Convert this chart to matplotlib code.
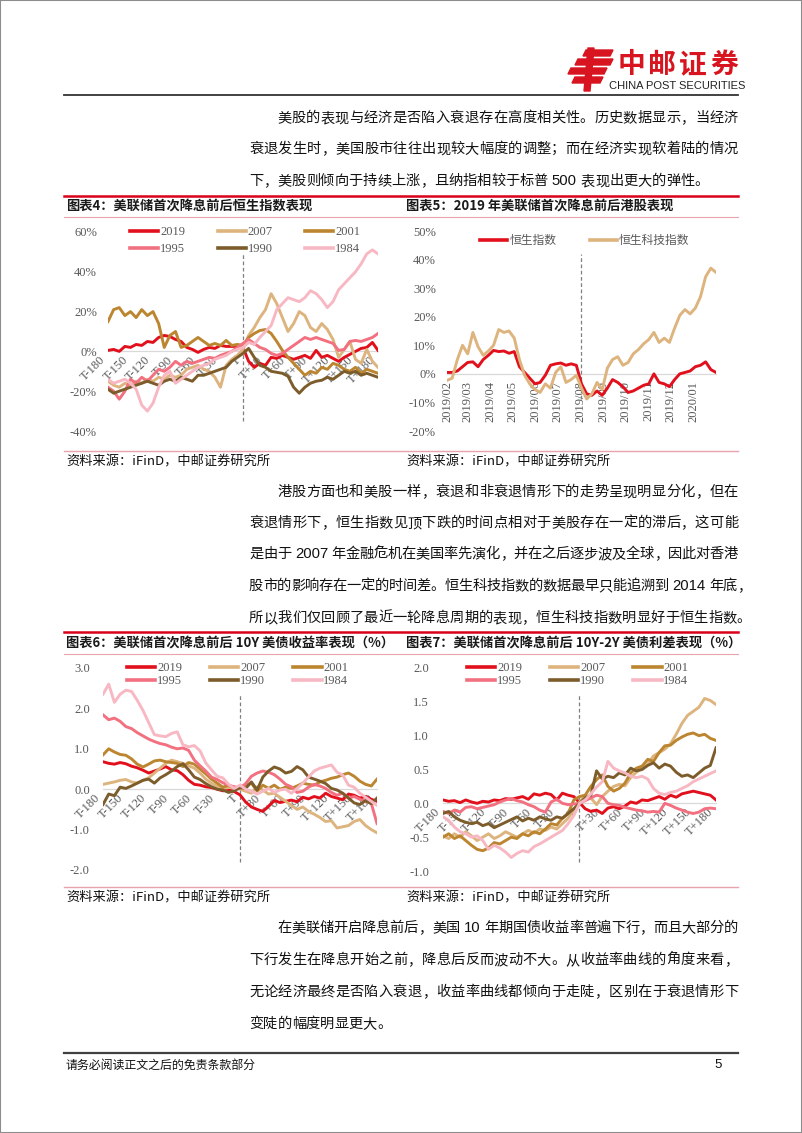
import re
import numpy as np
import pandas as pd
import matplotlib
matplotlib.use('Agg')
import matplotlib.pyplot as plt
import matplotlib.dates as mdates
from matplotlib.lines import Line2D
from matplotlib.patches import Polygon, Rectangle

plt.rcParams['font.family'] = ['Liberation Serif', 'DejaVu Serif']
CJK = ['Noto Sans CJK SC', 'DejaVu Sans']
NARROW = ['Liberation Sans Narrow', 'Liberation Sans', 'DejaVu Sans']

W, H = 802, 1133

# ------------------------------------------------------------------ data
t_days = np.arange(-180, 181, 7.5)          # trading-day offset from first cut
t_ticks = [-180, -150, -120, -90, -60, -30, 0, 30, 60, 90, 120, 150, 180]
t_labels = ['T-180', 'T-150', 'T-120', 'T-90', 'T-60', 'T-30', 'T',
            'T+30', 'T+60', 'T+90', 'T+120', 'T+150', 'T+180']
years = ['2019', '2007', '2001', '1995', '1990', '1984']
year_colors = ['#E2101C', '#DDB47E', '#BC8530', '#F27080', '#7C5C2A', '#F8B8C3']

# 图表4 恒生指数 (%)
c4_2019 = [0.5, 1, 0, 2.5, 2, 3.5, 3, 5, 4.5, 7, 8, 7.5, 6, 5, 2, 1, -0.5, 1, 2, 1.5,
           3, 2.5, 2.5, 2.5, 2, -5, -8, -6, -7, -3, -3.5, -2, -3, -4, -3, -2, -3.5, 0.5,
           -3, -2, -3.5, -5, -3, -1.5, 0, 1.5, 2, 4.5, 0.5]
c4_2007 = [-15, -17, -18, -16, -17, -15, -16, -14, -15, -13, -14, -12, -13, -12, -9, -8,
           -7, -9, -10, -13, -18, -7, -4, -2, 1, 8, 12, 17, 21, 29, 24, 17, 10, 14, 20,
           18, 12, 10, 14, 11, 6, -3, 1, 5, -4, -6, 1, -5, -8]
c4_2001 = [15, 21, 22, 18, 20, 17, 21, 18, 20, 14, 2, 8, 10, 2, 3, 5, 7, 5, 3, 4, 3, 5.5,
           3, 3.5, 3, 7, 9, 10.5, 11, 9, 5, 0.5, -3, -6, -9, -12, -10, -11, -8, -9, -6,
           -7, -9, -10, -8, -11, -9, -10, -11]
c4_1995 = [-18, -20, -24, -20, -14, -16, -13, -15, -12, -9, -10, -8, -5, -7, -5, -6, -5,
           -4, -3, -3.5, -2, -1, 0, 2, 4, 6, 4, 2, 1, -1, -2, -1, 1, 3, 5, 7, 6, 7, 6, 5,
           4, 0.5, 1, 5, 5.5, 5, 6, 7, 9]
c4_1990 = [-19, -21, -20, -19, -18, -17, -16, -15, -16, -17, -15, -14, -15, -13, -14, -15,
           -12, -12, -11, -10, -9, -8, -5, -3, -1, 1.5, -3, -7, -8, -10, -10.5, -11,
           -12.5, -18, -21, -18, -16, -15, -14.5, -13, -14, -12, -10, -11, -10, -12,
           -11, -12, -13]
c4_1984 = [-14, -16, -15, -14, -16, -19, -27, -30, -26, -18, -12, -10, -16, -14, -12,
           -10, -8, -7, -6, -4, -3, -2, 0, 1, 2, 4.5, 3.5, 7, 10, 13, 21, 24, 27, 26, 25,
           27, 30.5, 29, 26, 22, 25, 31, 34, 37, 40, 44, 49, 51, 49]

# 图表5 港股 (%), weekly
hk_dates = pd.date_range('2019-02-01', periods=53, freq='7D')
hk_month_ticks = pd.date_range('2019-02-01', '2020-01-01', freq='MS')
hsi = [0.5, 0.5, 1.0, 2.5, 4.0, 4.2, 2.5, 5.0, 6.5, 8.2, 7.8, 8.0, 7.2, 7.8, 2.5, 0.5,
       -1.5, -3.5, -3.0, -0.5, 3.0, 3.5, 3.8, 3.0, 3.5, 3.0, -3.5, -7.0, -7.5, -6.0,
       -7.5, -5.0, -2.0, -3.0, -4.5, -6.5, -6.0, -5.0, -4.0, -3.5, 0.0, -3.0, -3.5,
       -4.5, -2.0, 0.0, 0.5, 1.0, 2.5, 3.0, 4.2, 1.5, 0.5]
hstech = [-2.3, -1.5, 5.0, 10.0, 7.0, 14.5, 9.5, 6.5, 8.0, 10.0, 15.5, 14.5, 15.0, 12.5,
          5.0, -0.5, -3.5, -5.5, -6.5, -3.5, -5.0, 0.5, 2.5, -3.0, -2.0, -0.5, -5.0,
          -8.8, -7.0, -3.0, -5.5, 2.0, 5.0, 6.0, 3.0, 4.0, 7.0, 8.5, 10.5, 12.0, 14.5,
          11.0, 12.5, 11.0, 16.0, 20.5, 22.5, 21.0, 23.0, 27.0, 34.0, 37.0, 35.5]
hk_names = ['恒生指数', '恒生科技指数']
hk_colors = ['#E2101C', '#DDB47E']
hk_cut = pd.Timestamp('2019-08-01')

# 图表6 10Y 美债收益率变化 (%)
c6_2019 = [0.68, 0.64, 0.62, 0.66, 0.63, 0.57, 0.53, 0.47, 0.40, 0.45, 0.50, 0.56, 0.48,
           0.46, 0.36, 0.22, 0.12, 0.10, 0.06, 0.04, 0.00, -0.04, -0.02, -0.06, -0.14,
           -0.32, -0.44, -0.50, -0.55, -0.42, -0.28, -0.33, -0.30, -0.27, -0.31, -0.20,
           -0.24, -0.18, -0.22, -0.10, -0.18, -0.22, -0.26, -0.12, -0.15, -0.22, -0.18,
           -0.25, -0.30]
c6_2007 = [0.12, 0.15, 0.18, 0.22, 0.24, 0.18, 0.15, 0.22, 0.28, 0.40, 0.52, 0.64, 0.72,
           0.68, 0.64, 0.58, 0.52, 0.40, 0.25, 0.15, 0.07, 0.02, 0.04, 0.06, 0.0, -0.05,
           -0.10, 0.06, -0.02, -0.12, -0.10, -0.20, -0.30, -0.40, -0.50, -0.44, -0.55,
           -0.62, -0.70, -0.80, -0.78, -0.96, -0.93, -0.90, -0.80, -0.75, -0.90, -1.00,
           -1.08]
c6_2001 = [0.85, 1.00, 0.92, 0.86, 0.84, 0.75, 0.62, 0.55, 0.62, 0.70, 0.72, 0.68, 0.66,
           0.64, 0.56, 0.66, 0.62, 0.50, 0.38, 0.25, 0.15, 0.05, 0.10, 0.02, 0.06, 0.10,
           0.15, -0.05, 0.10, 0.02, 0.10, 0.0, 0.05, 0.02, 0.08, 0.15, 0.12, 0.10, 0.18,
           0.22, 0.27, 0.30, 0.36, 0.40, 0.32, 0.20, 0.12, 0.08, 0.25]
c6_1995 = [1.84, 1.72, 1.76, 1.68, 1.55, 1.50, 1.40, 1.32, 1.24, 1.18, 1.13, 1.10, 1.04,
           1.00, 1.02, 0.96, 0.72, 0.58, 0.45, 0.30, 0.24, 0.16, 0.10, 0.06, 0.02, 0.14,
           0.32, 0.40, 0.45, 0.42, 0.36, 0.25, 0.12, 0.06, -0.08, -0.05, 0.05, 0.12, 0.08,
           0.02, -0.08, -0.15, -0.10, -0.22, -0.18, -0.25, -0.30, -0.35, -0.85]
c6_1990 = [-0.38, -0.12, -0.16, 0.05, 0.02, 0.08, 0.15, 0.22, 0.25, 0.15, 0.28, 0.36, 0.45,
           0.56, 0.63, 0.48, 0.30, 0.24, 0.14, 0.06, 0.0, -0.02, -0.08, -0.04, 0.04, 0.02,
           0.18, -0.02, 0.30, 0.45, 0.55, 0.50, 0.40, 0.44, 0.56, 0.48, 0.30, 0.25, 0.20,
           0.14, 0.02, -0.02, -0.10, -0.22, -0.34, -0.38, -0.28, -0.36, -0.22]
c6_1984 = [2.35, 2.60, 2.15, 2.35, 2.45, 2.42, 2.20, 1.95, 1.65, 1.35, 1.32, 1.30, 1.38,
           1.42, 1.10, 1.05, 1.08, 0.95, 0.65, 0.48, 0.32, 0.28, 0.12, 0.02, 0.10, 0.0,
           -0.05, -0.12, -0.05, 0.02, -0.08, -0.02, 0.0, -0.10, 0.02, 0.15, 0.30, 0.45,
           0.52, 0.56, 0.60, 0.42, 0.35, 0.10, 0.05, -0.10, -0.20, -0.30, -0.40]

# 图表7 10Y-2Y 利差变化 (%)
c7_2019 = [0.05, 0.03, 0.04, 0.01, 0.05, 0.02, 0.0, 0.03, 0.02, 0.05, 0.04, 0.07, 0.06,
           0.08, 0.10, 0.06, 0.14, 0.12, 0.15, 0.13, 0.05, 0.15, 0.12, 0.10, 0.01, -0.08,
           -0.12, -0.10, -0.15, -0.07, -0.05, -0.08, -0.04, 0.02, 0.0, 0.05, 0.04, 0.07,
           0.10, 0.06, 0.12, 0.09, 0.14, 0.16, 0.18, 0.16, 0.14, 0.12, 0.05]
c7_2007 = [-0.48, -0.52, -0.45, -0.50, -0.42, -0.48, -0.55, -0.50, -0.45, -0.52, -0.48,
           -0.42, -0.46, -0.50, -0.45, -0.40, -0.44, -0.38, -0.40, -0.35, -0.38, -0.30,
           -0.22, -0.10, 0.02, 0.12, 0.08, -0.02, 0.10, 0.18, 0.25, 0.28, 0.26, 0.38, 0.46,
           0.52, 0.58, 0.70, 0.75, 0.80, 0.88, 1.02, 1.18, 1.30, 1.36, 1.42, 1.55, 1.52,
           1.46]
c7_2001 = [-0.50, -0.45, -0.52, -0.48, -0.55, -0.62, -0.68, -0.70, -0.66, -0.58, -0.60,
           -0.55, -0.50, -0.52, -0.45, -0.48, -0.42, -0.45, -0.38, -0.30, -0.32, -0.22,
           -0.15, 0.05, 0.10, 0.12, 0.25, 0.35, 0.42, 0.25, 0.18, 0.22, 0.30, 0.45, 0.52,
           0.55, 0.65, 0.62, 0.75, 0.85, 0.86, 0.93, 0.98, 1.02, 1.04, 1.00, 1.02, 0.96,
           0.93]
c7_1995 = [-0.12, -0.15, -0.10, -0.13, -0.06, -0.05, -0.08, -0.06, -0.04, -0.02, 0.02,
           0.05, 0.07, 0.04, 0.02, -0.02, -0.05, -0.10, -0.13, 0.02, 0.06, 0.0, -0.02,
           -0.01, 0.0, 0.04, 0.08, 0.12, 0.10, 0.0, -0.02, -0.03, -0.06, -0.08, -0.10,
           -0.11, -0.13, -0.12, -0.13, 0.0, -0.03, -0.07, -0.10, -0.13, -0.15, -0.13,
           -0.08, -0.07, -0.08]
c7_1990 = [-0.15, -0.12, -0.20, -0.25, -0.28, -0.30, -0.28, -0.33, -0.30, -0.36, -0.32,
           -0.28, -0.24, -0.20, -0.26, -0.22, -0.25, -0.20, -0.23, -0.25, -0.20, -0.22,
           -0.15, -0.08, 0.0, 0.08, 0.12, 0.48, 0.36, 0.40, 0.38, 0.45, 0.42, 0.52, 0.48,
           0.50, 0.56, 0.60, 0.52, 0.58, 0.55, 0.46, 0.40, 0.42, 0.38, 0.45, 0.52, 0.56,
           0.82]
c7_1984 = [-0.20, -0.25, -0.35, -0.42, -0.45, -0.50, -0.48, -0.55, -0.68, -0.62, -0.66,
           -0.72, -0.80, -0.74, -0.70, -0.72, -0.64, -0.60, -0.55, -0.50, -0.45, -0.40,
           -0.30, -0.18, 0.0, 0.05, 0.14, 0.24, 0.32, 0.62, 0.52, 0.48, 0.45, 0.40, 0.38,
           0.40, 0.36, 0.22, 0.15, 0.13, 0.16, 0.18, 0.22, 0.26, 0.32, 0.36, 0.40, 0.44,
           0.48]

c4_yticks = [-40, -20, 0, 20, 40, 60]
c4_ylabels = ['-40%', '-20%', '0%', '20%', '40%', '60%']
c5_yticks = [-20, -10, 0, 10, 20, 30, 40, 50]
c5_ylabels = ['-20%', '-10%', '0%', '10%', '20%', '30%', '40%', '50%']
c6_yticks = [-2, -1, 0, 1, 2, 3]
c6_ylabels = ['-2.0', '-1.0', '0.0', '1.0', '2.0', '3.0']
c7_yticks = [-1, -0.5, 0, 0.5, 1, 1.5, 2]
c7_ylabels = ['-1.0', '-0.5', '0.0', '0.5', '1.0', '1.5', '2.0']

para1 = ['美股的表现与经济是否陷入衰退存在高度相关性。历史数据显示，当经济',
         '衰退发生时，美国股市往往出现较大幅度的调整；而在经济实现软着陆的情况',
         '下，美股则倾向于持续上涨，且纳指相较于标普 500 表现出更大的弹性。']
para2 = ['港股方面也和美股一样，衰退和非衰退情形下的走势呈现明显分化，但在',
         '衰退情形下，恒生指数见顶下跌的时间点相对于美股存在一定的滞后，这可能',
         '是由于 2007 年金融危机在美国率先演化，并在之后逐步波及全球，因此对香港',
         '股市的影响存在一定的时间差。恒生科技指数的数据最早只能追溯到 2014 年底，',
         '所以我们仅回顾了最近一轮降息周期的表现，恒生科技指数明显好于恒生指数。']
para3 = ['在美联储开启降息前后，美国 10 年期国债收益率普遍下行，而且大部分的',
         '下行发生在降息开始之前，降息后反而波动不大。从收益率曲线的角度来看，',
         '无论经济最终是否陷入衰退，收益率曲线都倾向于走陡，区别在于衰退情形下',
         '变陡的幅度明显更大。']
source = '资料来源：iFinD，中邮证券研究所'

# ------------------------------------------------------------------ page
fig = plt.figure(figsize=(W / 100, H / 100), dpi=100)
fig.patch.set_facecolor('white')
renderer = fig.canvas.get_renderer()
GRAY = '#595959'
RED = '#D7141F'


def fx(x):
    return x / W


def fy(y):
    return 1 - y / H


def box(left, top, width, height):
    return [fx(left), fy(top + height), width / W, height / H]


def hline(y, x0, x1, color, lw):
    fig.add_artist(Line2D([fx(x0), fx(x1)], [fy(y), fy(y)], color=color, lw=lw))


def put_line(s, x0, y, x1=None, size=10.25, color='#111111'):
    # justified line: one text per full-width glyph, ascii runs kept together
    em = size * 100 / 72
    base = y + 0.36 * em
    toks = re.findall(r'[A-Za-z0-9.%]+| |.', s)
    items = []
    for tk in toks:
        if tk == ' ':
            items.append((None, 0.28 * em))
        elif re.match(r'[A-Za-z0-9.%]', tk):
            a = fig.text(0, fy(base), tk, fontsize=size * 1.05, family=NARROW,
                         color=color, ha='left', va='baseline')
            items.append((a, a.get_window_extent(renderer).width))
        else:
            a = fig.text(0, fy(base), tk, fontsize=size, family=CJK, color=color,
                         ha='center', va='baseline')
            items.append((a, em))
    total = sum(w for _, w in items)
    gap = 0 if x1 is None else (x1 - x0 - total) / (len(items) - 1)
    x = x0
    for a, w in items:
        if a is not None:
            a.set_x(fx(x + w / 2) if a.get_ha() == 'center' else fx(x))
        x += w + gap


# border
fig.add_artist(Rectangle((0, 0), 1, 1, transform=fig.transFigure, fill=False,
                         edgecolor='#8c8c8c', lw=1.5))

# logo
logo_bars = [(583, 50, 610, 56), (575, 59, 610, 65), (568, 68, 604, 74), (572, 77, 600, 83)]
for x0, y0, x1, y1 in logo_bars:
    sk = 3
    fig.add_artist(Polygon([(fx(x0 + sk), fy(y0)), (fx(x1 + sk), fy(y0)),
                            (fx(x1), fy(y1)), (fx(x0), fy(y1))],
                           closed=True, color=RED, transform=fig.transFigure))
fig.add_artist(Polygon([(fx(588), fy(48)), (fx(594), fy(48)), (fx(590), fy(91)),
                        (fx(584), fy(91))], closed=True, color=RED,
                       transform=fig.transFigure))
for i, ch in enumerate('中邮证券'):
    fig.text(fx(631 + 31 * i), fy(65), ch, fontsize=20, family=CJK, weight='bold',
             color=RED, ha='center', va='center')
fig.text(fx(677), fy(86), 'CHINA POST SECURITIES', fontsize=8, family=NARROW,
         color='#222222', ha='center', va='center')

hline(95, 64, 738, '#333333', 1.3)
hline(196, 64, 738, '#D9001B', 1.8)
hline(217, 64, 738, '#E9A3AC', 0.8)
hline(451, 64, 738, '#E9A3AC', 1.0)
hline(632, 64, 738, '#D9001B', 1.8)
hline(654, 64, 738, '#E9A3AC', 0.8)
hline(887, 64, 738, '#E9A3AC', 1.0)
hline(1053, 64, 738, '#404040', 1.6)

# body text
for i, s in enumerate(para1):
    x0 = 277 if i == 0 else 249
    put_line(s, x0, [117, 148, 180][i], None if i == 2 else 738)
for i, s in enumerate(para2):
    x0 = 277 if i == 0 else 249
    put_line(s, x0, [491, 522, 553, 585, 617][i], 751 if i >= 3 else 738)
for i, s in enumerate(para3):
    x0 = 277 if i == 0 else 249
    put_line(s, x0, [927, 959, 991, 1023][i], None if i == 3 else 738)

# titles and sources
fig.text(fx(66), fy(206), '图表4：美联储首次降息前后恒生指数表现', fontsize=9.5,
         family=CJK, weight='bold', color='#1a1a1a', va='center')
fig.text(fx(406), fy(206), '图表5：2019 年美联储首次降息前后港股表现', fontsize=9.5,
         family=CJK, weight='bold', color='#1a1a1a', va='center')
fig.text(fx(66), fy(643), '图表6：美联储首次降息前后 10Y 美债收益率表现（%）', fontsize=9.5,
         family=CJK, weight='bold', color='#1a1a1a', va='center')
fig.text(fx(406), fy(643), '图表7：美联储首次降息前后 10Y-2Y 美债利差表现（%）', fontsize=9.5,
         family=CJK, weight='bold', color='#1a1a1a', va='center')
for sx, sy in [(66, 462), (406, 462), (66, 898), (406, 898)]:
    fig.text(fx(sx), fy(sy), source, fontsize=9.5, family=CJK, color='#111111', va='center')
fig.text(fx(66), fy(1065), '请务必阅读正文之后的免责条款部分', fontsize=8.6, family=CJK,
         color='#111111', va='center')
fig.text(fx(718), fy(1065), '5', fontsize=9.5, family=NARROW, color='#111111',
         va='center', ha='center')


# ------------------------------------------------------------------ charts
def style_axes(ax, yticks, ylabels, ypad, xpad):
    ax.set_yticks(yticks, labels=ylabels)
    for s in ['top', 'right', 'left']:
        ax.spines[s].set_visible(False)
    ax.spines['bottom'].set_position(('data', 0))
    ax.spines['bottom'].set_color('#d9d9d9')
    ax.spines['bottom'].set_linewidth(0.9)
    ax.spines['bottom'].set_zorder(0.5)
    ax.tick_params(length=0, labelcolor=GRAY, labelsize=9)
    ax.tick_params(axis='y', pad=ypad)
    ax.tick_params(axis='x', pad=xpad)
    ax.set_axisbelow(True)
    ax.patch.set_alpha(0)


def draw_lines(ax, x, series, colors):
    hs = []
    for ys, c in zip(series, colors):
        h, = ax.plot(x, ys, color=c, lw=2.1, solid_joinstyle='round')
        hs.append(h)
    return hs


def legend6(ax, hs, left, top, colsp, lsp):
    order = [0, 3, 1, 4, 2, 5]
    leg = ax.legend([hs[i] for i in order], [years[i] for i in order], ncol=3,
                    loc='upper left', bbox_to_anchor=(fx(left), fy(top)),
                    bbox_transform=fig.transFigure, frameon=False, fontsize=9,
                    handlelength=2.25, handletextpad=0.15, columnspacing=colsp,
                    labelspacing=lsp, borderpad=0, borderaxespad=0)
    for t in leg.get_texts():
        t.set_color(GRAY)
    for ln in leg.get_lines():
        ln.set_linewidth(2.6)


def t_axis(ax):
    ax.set_xlim(-180, 180)
    ax.set_xticks(t_ticks, labels=t_labels)
    ax.tick_params(axis='x', labelrotation=45)
    for lab in ax.get_xticklabels():
        lab.set_ha('right')
        lab.set_va('top')


# 图表4
ax4 = fig.add_axes(box(108, 232, 270, 199))
h4 = draw_lines(ax4, t_days, [c4_2019, c4_2007, c4_2001, c4_1995, c4_1990, c4_1984],
                year_colors)
ax4.plot([0, 0], [-35, 49], color='#808080', lw=0.9, ls=(0, (3, 2)), zorder=1)
ax4.set_ylim(-40, 60)
style_axes(ax4, c4_yticks, c4_ylabels, 8, 2)
t_axis(ax4)
legend6(ax4, h4, 130, 226, 2.6, 0.4)

# 图表5
ax5 = fig.add_axes(box(447, 231, 269, 200))
h5 = draw_lines(ax5, hk_dates, [hsi, hstech], hk_colors)
ax5.plot([hk_cut, hk_cut], [-8.7, 42], color='#808080', lw=0.9, ls=(0, (3, 2)), zorder=1)
ax5.set_ylim(-20, 50)
ax5.set_xlim(pd.Timestamp('2019-02-01'), pd.Timestamp('2020-01-31'))
style_axes(ax5, c5_yticks, c5_ylabels, 8, 5)
ax5.set_xticks(hk_month_ticks)
ax5.xaxis.set_major_formatter(mdates.DateFormatter('%Y/%m'))
ax5.tick_params(axis='x', labelrotation=90)
for lab in ax5.get_xticklabels():
    lab.set_ha('center')
    lab.set_va('top')
leg5 = ax5.legend(h5, hk_names, ncol=2, loc='upper left', bbox_to_anchor=(fx(480), fy(234)),
                  bbox_transform=fig.transFigure, frameon=False,
                  prop={'family': CJK, 'size': 8.5}, handlelength=2.3, handletextpad=0.2,
                  columnspacing=2.8, borderpad=0, borderaxespad=0)
for t in leg5.get_texts():
    t.set_color(GRAY)
for ln in leg5.get_lines():
    ln.set_linewidth(2.6)

# 图表6
ax6 = fig.add_axes(box(103, 668, 274, 202))
h6 = draw_lines(ax6, t_days, [c6_2019, c6_2007, c6_2001, c6_1995, c6_1990, c6_1984],
                year_colors)
ax6.plot([0, 0], [-1.81, 2.33], color='#808080', lw=0.9, ls=(0, (3, 2)), zorder=1)
ax6.set_ylim(-2, 3)
style_axes(ax6, c6_yticks, c6_ylabels, 9.5, 2)
t_axis(ax6)
legend6(ax6, h6, 127, 662, 2.25, 0.12)

# 图表7
ax7 = fig.add_axes(box(443, 668, 273, 203))
h7 = draw_lines(ax7, t_days, [c7_2019, c7_2007, c7_2001, c7_1995, c7_1990, c7_1984],
                year_colors)
ax7.plot([0, 0], [-0.87, 1.6], color='#808080', lw=0.9, ls=(0, (3, 2)), zorder=1)
ax7.set_ylim(-1, 2)
style_axes(ax7, c7_yticks, c7_ylabels, 10, 2)
t_axis(ax7)
legend6(ax7, h7, 467, 662, 2.25, 0.12)

fig.savefig('out.png', dpi=100)
